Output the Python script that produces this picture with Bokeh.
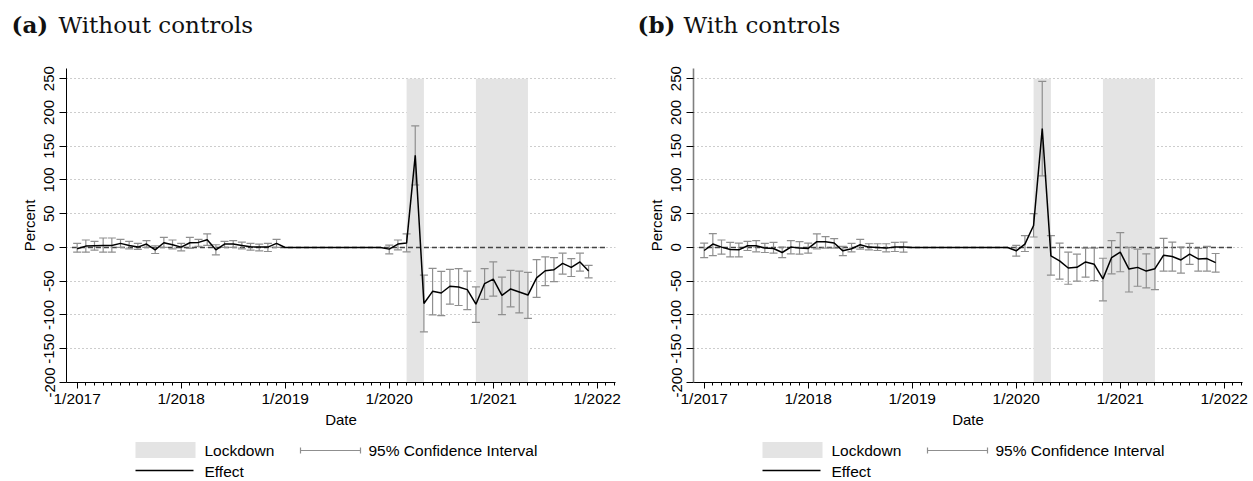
import pandas as pd
from bokeh.plotting import figure
from bokeh.models import Range1d, FixedTicker, ColumnDataSource
from bokeh.layouts import column, row
from bokeh.core.properties import value
from bokeh.embed import file_html
from bokeh.resources import INLINE

# ---- data -------------------------------------------------------------
months = [p.strftime("%Y-%m") for p in pd.period_range("2017-01", "2021-12", freq="M")]

# (a) without controls: monthly effect (percent) and 95% CI (None = reference year)
effect_a = [-2, 2, 2.5, 3, 3, 6, 3, 0.5, 5, -3.5, 7, 4,
            0.5, 7, 7.5, 11.5, -3.5, 5, 5, 3, 1, 0.5, 0.5, 6,
            0, 0, 0, 0, 0, 0, 0, 0, 0, 0, 0, 0,
            -2.5, 5, 6.5, 136.5, -83, -65, -67.5, -57.5, -58.5, -62.5, -84, -53.5,
            -47, -71, -61.5, -66, -70.5, -45, -34.5, -33, -23.5, -29.5, -21.5, -35]
upper_a = [6, 11, 9, 14, 14, 12, 9, 6, 10, 2.5, 15, 11,
           6, 15, 12, 20, 4, 9, 10, 8, 6, 5, 6, 12,
           None, None, None, None, None, None, None, None, None, None, None, None,
           3.5, 11, 20, 180, -41, -31, -35.5, -32.5, -31.5, -35, -58.5, -31.5,
           -21.5, -44, -34, -35, -37, -18, -14, -15, -8.5, -16.5, -8.5, -26.5]
lower_a = [-7, -7, -4, -7, -7, 0, -2, -3, 0, -9, 0, -2,
           -5, -1.5, 1.5, 3, -11, 0, 0, -2, -4, -5, -6, 0,
           None, None, None, None, None, None, None, None, None, None, None, None,
           -9.5, -3.5, -6.5, 92.5, -125, -100, -101, -84, -86, -92, -111, -77,
           -72, -99.5, -88, -97, -105, -74, -56.5, -50.5, -39.5, -43, -35, -45]

# (b) with controls
effect_b = [-4.5, 5, 0.5, -3, -3.5, 2.5, 2.5, -1, -1.5, -7.5, 0.5, -1,
            -1.5, 8.5, 8.5, 6.5, -5, -2, 4, 0.5, 0, -1, 0.5, 0.5,
            0, 0, 0, 0, 0, 0, 0, 0, 0, 0, 0, 0,
            -5, 5, 32.5, 176, -12.5, -20, -30.5, -29.5, -21.5, -25, -46.5, -15,
            -7, -32, -29.5, -35, -31.5, -11.5, -13.5, -18.5, -10, -17, -16.5, -22.5]
upper_b = [6.5, 20.5, 11, 7.5, 6.5, 9, 10, 6, 7.5, 0.5, 10, 8.5,
           6.5, 20, 16, 13, 1.5, 6, 12, 5.5, 5.5, 5.5, 7.5, 8,
           None, None, None, None, None, None, None, None, None, None, None, None,
           3, 17.5, 50, 246, 17.5, 6.5, -7, -10, -1, -1, -16, 10,
           22, 0, -2.5, -9.5, -1.5, 13.5, 8, 0.5, 6, -1.5, 1.5, -9]
lower_b = [-15, -12, -10, -14, -14, -4.5, -6.5, -7.5, -8.5, -15, -9.5, -10,
           -8.5, -2, -1, -1, -12, -6.5, -2.5, -3.5, -4.5, -6.5, -6, -7,
           None, None, None, None, None, None, None, None, None, None, None, None,
           -13, -6, 15.5, 106, -41, -47, -54.5, -50, -44, -49, -79, -39,
           -36, -66, -57.5, -60, -62.5, -35, -35, -38, -25, -35, -35, -36.5]

lockdowns = [("2020-03", "2020-05"), ("2020-11", "2021-05")]
year_ticks = ["2017-01", "2018-01", "2019-01", "2020-01", "2021-01", "2022-01"]
year_labels = ["1/2017", "1/2018", "1/2019", "1/2020", "1/2021", "1/2022"]
y_ticks = [-200, -150, -100, -50, 0, 50, 100, 150, 200, 250]

# ---- styling ------------------------------------------------------------
W_A, W_B = 627, 626
FRAME_L, FRAME_R = 66, 615          # plot frame edges (px) inside each panel
SANS = "Liberation Sans"
SERIF = "DejaVu Serif"
BAND = "#e4e4e4"
CI_COLOR = "#8f8f8f"


def month_index(s):
    y, m = map(int, s.split("-"))
    return (y - 2017) * 12 + (m - 1)


def bare_fig(width, height, left, right):
    f = figure(width=width, height=height, x_range=Range1d(left, right), y_range=Range1d(height, 0),
               output_backend="svg", toolbar_location=None,
               min_border_left=left, min_border_right=width - right, min_border_top=0, min_border_bottom=0,
               x_axis_type=None, y_axis_type=None, outline_line_color=None)
    f.grid.visible = False
    return f


def title_fig(width, tag, text, tag_x, text_x):
    t = bare_fig(width, 50, 0, width)
    t.text(x=[tag_x], y=[24], text=[tag], text_font=value(SERIF), text_font_style="bold",
           text_font_size="23px", text_baseline="middle", text_align="left", text_color="#111111")
    t.text(x=[text_x], y=[24], text=[text], text_font=value(SERIF),
           text_font_size="23px", text_baseline="middle", text_align="left", text_color="#111111")
    return t


def legend_fig(width):
    g = bare_fig(width, 51, FRAME_L, FRAME_R)
    g.quad(left=[135], right=[195], top=[11.5], bottom=[27.5], fill_color=BAND, line_color=None)
    g.segment(x0=[300], y0=[20], x1=[360], y1=[20], line_color=CI_COLOR, line_width=1.2)
    g.segment(x0=[300, 360], y0=[17, 17], x1=[300, 360], y1=[23, 23], line_color=CI_COLOR, line_width=1.2)
    g.segment(x0=[135], y0=[40], x1=[193], y1=[40], line_color="black", line_width=1.5)
    g.text(x=[204, 368, 204], y=[20, 20, 41], text=["Lockdown", "95% Confidence Interval", "Effect"],
           text_font=value(SANS), text_font_size="15.5px", text_baseline="middle",
           text_align="left", text_color="black")
    return g


def main_fig(width, effect, lower, upper, yaxis_color, yaxis_width):
    x = [month_index(m) for m in months]
    p = figure(width=width, height=380, x_range=Range1d(-1.23, 62.1), y_range=Range1d(-200, 265),
               output_backend="svg", toolbar_location=None,
               min_border_left=FRAME_L, min_border_right=width - FRAME_R, min_border_top=18, min_border_bottom=47)
    p.outline_line_color = None
    p.background_fill_color = "white"
    p.border_fill_color = "white"

    # x axis: yearly labels, monthly minor ticks
    xt = [month_index(m) for m in year_ticks]
    p.xaxis.ticker = FixedTicker(ticks=xt, minor_ticks=list(range(0, 63)))
    p.xaxis.major_label_overrides = {v: lab for v, lab in zip(xt, year_labels)}
    p.xaxis.axis_label = "Date"
    p.xaxis.major_tick_out = 6
    p.xaxis.major_tick_in = 0
    p.xaxis.minor_tick_out = 3
    p.xaxis.minor_tick_in = 0
    p.xaxis.major_label_standoff = 1
    p.xaxis.axis_label_standoff = 1
    p.xaxis.major_label_text_font_size = "15.5px"
    p.xaxis.axis_label_text_font_size = "15px"

    # y axis
    p.yaxis.ticker = FixedTicker(ticks=y_ticks, minor_ticks=[])
    p.yaxis.major_label_overrides = {v: str(v) for v in y_ticks}
    p.yaxis.axis_label = "Percent"
    p.yaxis.major_label_orientation = "vertical"
    p.yaxis.major_tick_out = 7
    p.yaxis.major_tick_in = 0
    p.yaxis.major_label_standoff = 5
    p.yaxis.axis_label_standoff = 4
    p.yaxis.major_label_text_font_size = "15px"
    p.yaxis.axis_label_text_font_size = "15px"
    p.yaxis.axis_line_color = yaxis_color
    p.yaxis.axis_line_width = yaxis_width

    for ax in (p.xaxis, p.yaxis):
        ax.major_label_text_font = SANS
        ax.axis_label_text_font = SANS
        ax.axis_label_text_font_style = "normal"
        ax.major_label_text_color = "black"
        ax.axis_label_text_color = "black"
        ax.major_tick_line_color = "black"
        ax.minor_tick_line_color = "black"
    p.xaxis.axis_line_color = "black"

    p.xgrid.visible = False
    p.ygrid.ticker = FixedTicker(ticks=[t for t in y_ticks if t > -200])
    p.ygrid.grid_line_color = "#9a9a9a"
    p.ygrid.grid_line_dash = "1 3"
    p.ygrid.grid_line_width = 1

    # lockdown periods
    p.quad(left=[month_index(a) for a, b in lockdowns], right=[month_index(b) for a, b in lockdowns],
           bottom=-200, top=250, fill_color=BAND, line_color=None)

    # zero reference line
    p.segment(x0=[-0.6], y0=[0], x1=[61], y1=[0], line_color="#444444", line_width=1.4, line_dash="5 3")

    # confidence intervals
    keep = [i for i in range(len(x)) if lower[i] is not None]
    ci = ColumnDataSource(dict(x=[x[i] for i in keep], lo=[lower[i] for i in keep], hi=[upper[i] for i in keep]))
    p.segment(x0="x", y0="lo", x1="x", y1="hi", source=ci, line_color=CI_COLOR, line_width=1.2)
    p.scatter(x="x", y="lo", source=ci, marker="dash", size=8, line_color=CI_COLOR, line_width=1.2)
    p.scatter(x="x", y="hi", source=ci, marker="dash", size=8, line_color=CI_COLOR, line_width=1.2)

    # effect
    p.line(x=x, y=effect, line_color="black", line_width=1.5)
    return p


# titles sit in their own row so their frames span the full panel width
titles = row(title_fig(W_A, "(a)", "Without controls", 11, 58),
             title_fig(W_B, "(b)", "With controls", 10, 56), spacing=0)
plots = row(column(main_fig(W_A, effect_a, lower_a, upper_a, "black", 1), legend_fig(W_A), spacing=0),
            column(main_fig(W_B, effect_b, lower_b, upper_b, "#7f7f7f", 1.6), legend_fig(W_B), spacing=0),
            spacing=0)
page = column(titles, plots, spacing=0)

open("out.html", "w").write(file_html(page, INLINE))
